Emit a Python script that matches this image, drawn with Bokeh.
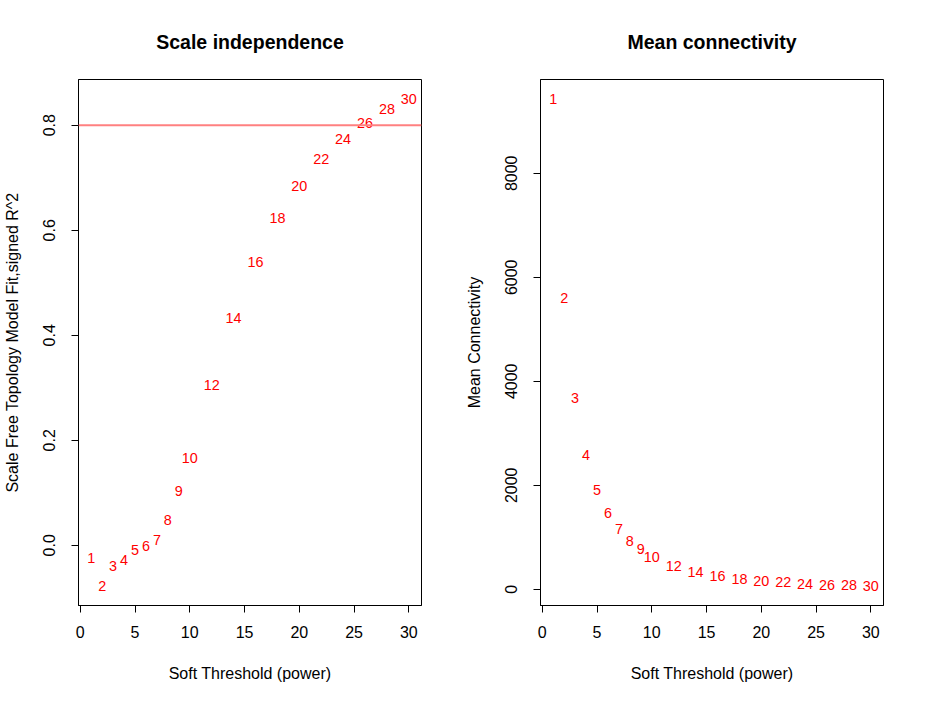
from bokeh.plotting import figure
from bokeh.layouts import row
from bokeh.models import Range1d, FixedTicker, PrintfTickFormatter, Span, ColumnDataSource
from bokeh.core.properties import value
from bokeh.embed import file_html
from bokeh.resources import INLINE

powers = [1, 2, 3, 4, 5, 6, 7, 8, 9, 10, 12, 14, 16, 18, 20, 22, 24, 26, 28, 30]
sft_r2 = [-0.0235, -0.0775, -0.039, -0.027, -0.0095, -0.002, 0.011, 0.0476, 0.103, 0.166,
          0.305, 0.433, 0.540, 0.623, 0.684, 0.735, 0.773, 0.804, 0.831, 0.850]
mean_k = [9429, 5608, 3685, 2583, 1915, 1473, 1154, 935, 769, 627,
          448, 338, 262, 204, 165, 140, 108, 83, 77, 63]
labels = [str(v) for v in powers]
x_ticks = [0, 5, 10, 15, 20, 25, 30]
r2_ticks = [0.0, 0.2, 0.4, 0.6, 0.8]
k_ticks = [0, 2000, 4000, 6000, 8000]
r2_cut = 0.8

FONT = "Liberation Sans"


def pad_range(vals):
    lo, hi = min(vals), max(vals)
    d = (hi - lo) * 0.04
    return Range1d(lo - d, hi + d)


def make_fig(title, ylabel, yvals, yticks, yfmt, width, left_border, right_border):
    p = figure(width=width, height=695, frame_width=343, frame_height=526,
               output_backend="svg", toolbar_location=None,
               x_range=pad_range(powers), y_range=pad_range(yvals),
               min_border_left=left_border, min_border_right=right_border,
               min_border_top=79, min_border_bottom=90,
               title=title)
    p.title.align = "center"
    p.title.text_font = FONT
    p.title.text_font_size = "19.5px"
    p.title.text_font_style = "bold"
    p.title.text_color = "black"
    p.title.standoff = 53
    p.grid.visible = False
    p.outline_line_color = "black"
    p.outline_line_width = 1
    p.outline_line_alpha = 1
    p.background_fill_color = "white"
    p.border_fill_color = "white"

    for ax in (p.xaxis[0], p.yaxis[0]):
        ax.axis_line_color = "black"
        ax.major_tick_line_color = "black"
        ax.minor_tick_line_color = None
        ax.major_tick_in = 0
        ax.major_tick_out = 7
        ax.major_label_text_font = FONT
        ax.major_label_text_font_size = "16px"
        ax.major_label_text_color = "black"
        ax.axis_label_text_font = FONT
        ax.axis_label_text_font_size = "16px"
        ax.axis_label_text_font_style = "normal"
        ax.axis_label_text_color = "black"

    p.xaxis.ticker = FixedTicker(ticks=x_ticks)
    p.xaxis.axis_label = "Soft Threshold (power)"
    p.xaxis.major_label_standoff = 13
    p.xaxis.axis_label_standoff = 24

    p.yaxis.ticker = FixedTicker(ticks=yticks)
    p.yaxis.formatter = PrintfTickFormatter(format=yfmt)
    p.yaxis.major_label_orientation = "vertical"
    p.yaxis.axis_label = ylabel
    p.yaxis.major_label_standoff = 16
    p.yaxis.axis_label_standoff = 20
    return p


src = ColumnDataSource(dict(x=powers, r2=sft_r2, k=mean_k, lab=labels))

p1 = make_fig("Scale independence", "Scale Free Topology Model Fit,signed R^2",
              sft_r2, r2_ticks, "%.1f", 459, 78, 38)
p1.text(x="x", y="r2", text="lab", source=src, text_color="red",
        text_font=value(FONT), text_font_size="14.4px",
        text_align="center", text_baseline="middle")
p1.add_layout(Span(location=r2_cut, dimension="width", line_color="#ff8080", line_width=2))

p2 = make_fig("Mean connectivity", "Mean Connectivity",
              mean_k, k_ticks, "%d", 457, 81, 33)
p2.text(x="x", y="k", text="lab", source=src, text_color="red",
        text_font=value(FONT), text_font_size="14.4px",
        text_align="center", text_baseline="middle")

layout = row(p1, p2)
open("out.html", "w").write(file_html(layout, INLINE))
